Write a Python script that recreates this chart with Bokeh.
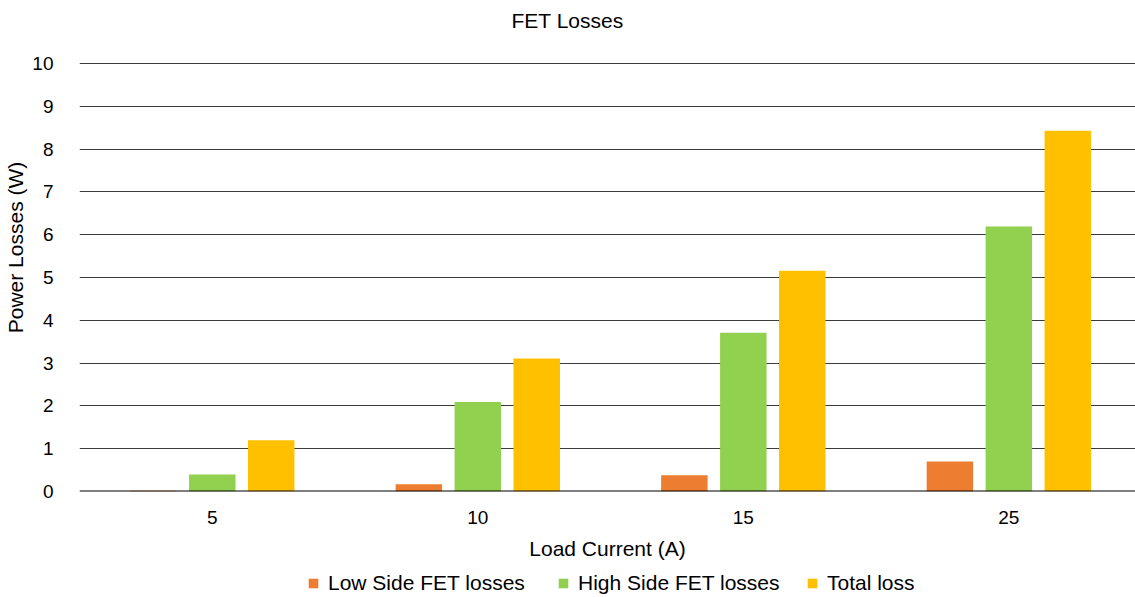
from bokeh.plotting import figure
from bokeh.layouts import column
from bokeh.models import (ColumnDataSource, Range1d, FixedTicker, Legend, LegendItem,
                          Span, Label)
from bokeh.embed import file_html
from bokeh.resources import INLINE

# Load current categories and per-FET power losses (W)
currents = ["5", "10", "15", "25"]
low_side = [0.02, 0.17, 0.38, 0.70]
high_side = [0.40, 2.09, 3.71, 6.19]
total_loss = [1.20, 3.11, 5.16, 8.43]
y_ticks = list(range(0, 11))

series_names = ["Low Side FET losses", "High Side FET losses", "Total loss"]
colors = ["#ED7D31", "#92D050", "#FFC000"]

FONT = "Liberation Sans"

centers = [i + 0.5 for i in range(len(currents))]
bar_w = 0.175
step = 0.222
px_per_w = 42.8            # vertical scale of the plot area
frame_h = 488
y_top = frame_h / px_per_w  # headroom above 10 W holds the chart title

p = figure(frame_width=1056, frame_height=frame_h, output_backend="svg",
           toolbar_location=None,
           x_range=Range1d(0, 3.977), y_range=Range1d(0, y_top),
           min_border_left=79, min_border_right=0, min_border_top=3,
           min_border_bottom=76)
p.outline_line_color = None
p.background_fill_color = "white"
p.border_fill_color = "white"

for k, (vals, color) in enumerate(zip([low_side, high_side, total_loss], colors)):
    src = ColumnDataSource(dict(x=[c + (k - 1) * step for c in centers], top=vals))
    p.vbar(x="x", top="top", bottom=0, width=bar_w, source=src,
           fill_color=color, line_color=None)

# Grid
p.xgrid.grid_line_color = None
p.ygrid.ticker = FixedTicker(ticks=y_ticks)
p.ygrid.grid_line_color = "#3a3a3a"
p.ygrid.grid_line_width = 1
p.add_layout(Span(location=0, dimension="width", line_color="black", line_width=2))

# Chart title, centred across the full width
p.add_layout(Label(x=(567 - 79) / 265.5, y=(491 - 20) / px_per_w, text="FET Losses",
                   text_font=FONT, text_font_size="21px", text_color="black",
                   text_align="center", text_baseline="middle"))

# Axes
p.yaxis.ticker = FixedTicker(ticks=y_ticks)
p.xaxis.ticker = FixedTicker(ticks=centers)
p.xaxis.major_label_overrides = {c: lab for c, lab in zip(centers, currents)}
for ax in (p.xaxis, p.yaxis):
    ax.axis_line_color = None
    ax.major_tick_line_color = None
    ax.minor_tick_line_color = None
    ax.major_label_text_font = FONT
    ax.major_label_text_font_size = "19px"
    ax.major_label_text_color = "black"
    ax.axis_label_text_font = FONT
    ax.axis_label_text_font_size = "21px"
    ax.axis_label_text_font_style = "normal"
    ax.axis_label_text_color = "black"
p.yaxis.major_label_standoff = 20
p.yaxis.axis_label = "Power Losses (W)"
p.yaxis.axis_label_standoff = 2
p.xaxis.major_label_standoff = 13
p.xaxis.axis_label = "Load Current (A)"
p.xaxis.axis_label_standoff = 10

# Legend strip beneath the chart; key swatches sit outside its visible range
leg = figure(width=1135, height=30, output_backend="svg", toolbar_location=None,
             x_range=Range1d(0, 1), y_range=Range1d(0, 1), min_border=0)
leg.axis.visible = False
leg.grid.visible = False
leg.outline_line_color = None
leg.border_fill_color = "white"
key_offsets = [228, 478, 727]   # pixel offsets of each legend entry in the strip
for name, c, off in zip(series_names, colors, key_offsets):
    r = leg.vbar(x=[5], top=[1], bottom=0, width=0.1, fill_color=c, line_color=None)
    leg.add_layout(Legend(items=[LegendItem(label=name, renderers=[r])],
                          orientation="horizontal", location=(off, 2),
                          glyph_width=12, glyph_height=12, label_standoff=9,
                          label_text_font=FONT, label_text_font_size="21px",
                          label_text_color="black",
                          border_line_color=None, background_fill_alpha=0,
                          padding=0, margin=0), "center")

layout = column(p, leg, spacing=0)
open("out.html", "w").write(file_html(layout, INLINE))
